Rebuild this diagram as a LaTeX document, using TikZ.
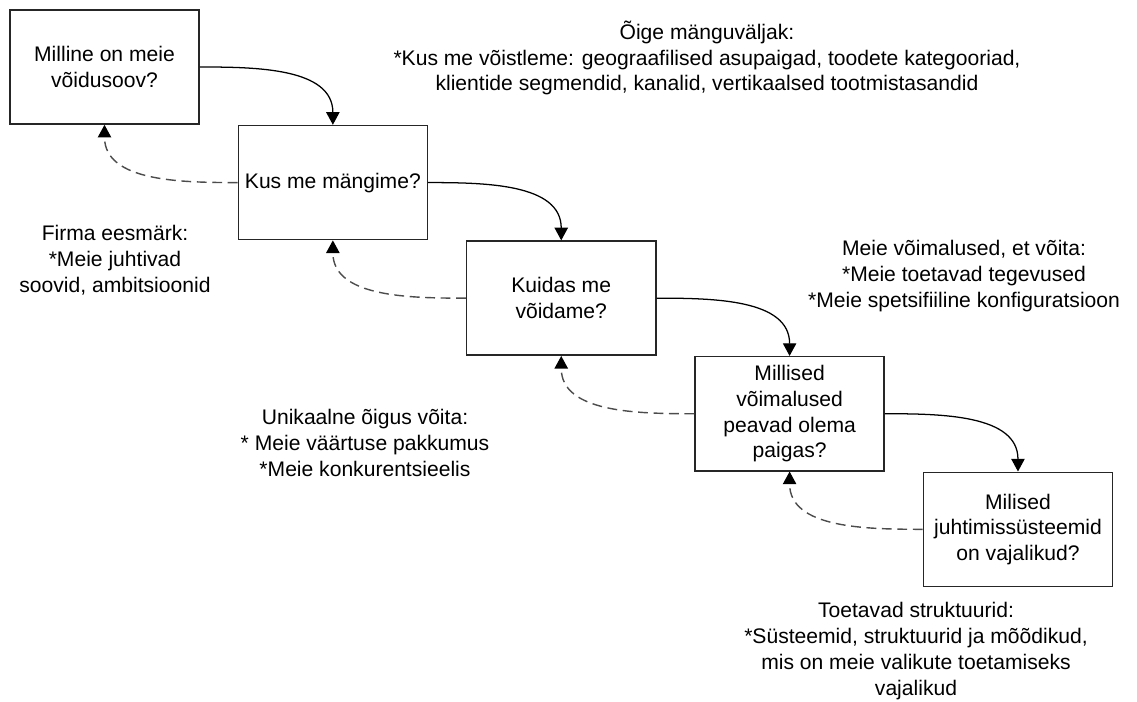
\documentclass[tikz,border=0pt]{standalone}
\usepackage{fontspec}
\setmainfont{Liberation Sans}
\usetikzlibrary{arrows.meta}
\usetikzlibrary{positioning}

\begin{document}
\begin{tikzpicture}[x=0.025cm, y=-0.025cm, font=\fontsize{15}{18.3}\selectfont]

		\tikzstyle{box} = [draw=black!85, line width=1.1pt, minimum width=4.725cm, minimum height=2.85cm, inner sep=0pt, align=center]
		\tikzstyle{edge} = [line width=0.9pt, -{Triangle[length=9pt, width=9.5pt]}]
		\tikzstyle{edge_dashed} = [line width=1pt, draw=black!70, dash pattern=on 7pt off 4pt, -{Triangle[length=9pt, width=9.5pt, color=black]}]
		\tikzstyle{note} = [align=center, inner sep=0pt]

		\useasboundingbox (0,0) rectangle (1137,702);

		\node[box](V) at (104.5,67){Milline on meie\\võidusoov?};
		\node[box](K) [below right=0cm and 0.944cm of V]{Kus me mängime?};
		\node[box](KV) [below right=0cm and 0.944cm of K]{Kuidas me\\võidame?};
		\node[box](MV) [below right=0cm and 0.944cm of KV]{Millised\\võimalused\\peavad olema\\paigas?};
		\node[box](MJ) [below right=0cm and 0.944cm of MV]{Milised\\juhtimissüsteemid\\on vajalikud?};

		\draw[edge] (V.east) to[out=0, in=90] (K.north);
		\draw[edge] (K.east) to[out=0, in=90] (KV.north);
		\draw[edge] (KV.east) to[out=0, in=90] (MV.north);
		\draw[edge] (MV.east) to[out=0, in=90] (MJ.north);

		\draw[edge_dashed] (K.west) to[out=180, in=-90] (V.south);
		\draw[edge_dashed] (KV.west) to[out=180, in=-90] (K.south);
		\draw[edge_dashed] (MV.west) to[out=180, in=-90] (KV.south);
		\draw[edge_dashed] (MJ.west) to[out=180, in=-90] (MV.south);

		\node[note](mangu) at (707,58){Õige mänguväljak:\\*Kus me võistleme: geograafilised asupaigad, toodete kategooriad,\\klientide segmendid, kanalid, vertikaalsed tootmistasandid};
		\node[note](firma) at (115,260){Firma eesmärk:\\*Meie juhtivad\\soovid, ambitsioonid};
		\node[note](oigus) at (365,443){Unikaalne õigus võita:\\* Meie väärtuse pakkumus\\*Meie konkurentsieelis};
		\node[note](voim) at (964,276){Meie võimalused, et võita:\\*Meie toetavad tegevused\\*Meie spetsifiiline konfiguratsioon};
		\node[note](strukt) at (916,651){Toetavad struktuurid:\\*Süsteemid, struktuurid ja mõõdikud,\\mis on meie valikute toetamiseks\\vajalikud};

\end{tikzpicture}
\end{document}
